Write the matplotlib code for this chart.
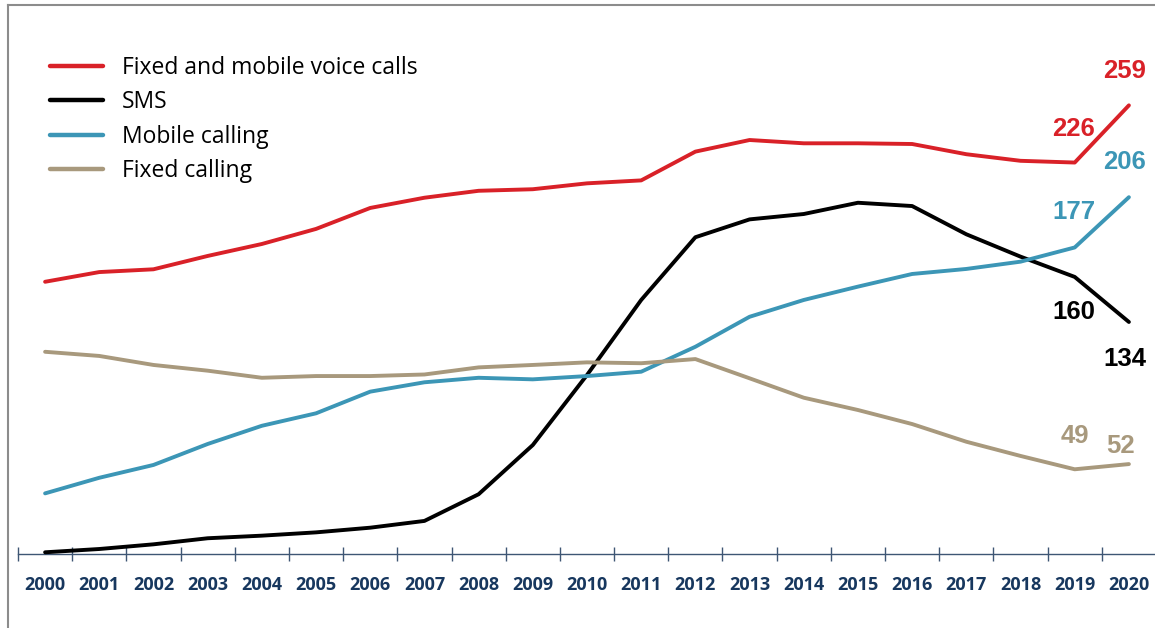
import matplotlib
matplotlib.use('Agg')
import matplotlib.pyplot as plt
from matplotlib.lines import Line2D
import numpy as np

years = list(range(2000, 2021))

voice_total = [157.2, 162.8, 164.4, 172.1, 179.0, 187.7, 199.8, 205.7, 209.7, 210.6, 214.0,
               215.7, 232.3, 239.0, 237.1, 237.1, 236.7, 230.8, 227.0, 226, 259]
sms = [1.1, 3.0, 5.7, 9.2, 10.7, 12.6, 15.3, 19.2, 34.6, 63.0, 103.4,
       146.7, 182.9, 193.2, 196.3, 202.8, 200.9, 184.6, 171.7, 160, 134]
mobile = [35.1, 44.1, 51.5, 63.6, 74.1, 81.3, 93.8, 99.2, 101.8, 100.9, 102.8,
          105.3, 119.7, 137.0, 146.7, 154.4, 161.7, 164.6, 168.8, 177, 206]
fixed = [116.8, 114.4, 109.2, 105.9, 101.8, 102.8, 102.8, 103.7, 107.8, 109.2, 110.7,
         110.2, 112.6, 101.5, 90.3, 83.2, 75.1, 64.9, 56.7, 49, 52]

labels = ['Fixed and mobile voice calls', 'SMS', 'Mobile calling', 'Fixed calling']
colors = ['#D92128', '#000000', '#3C96B6', '#A8997D']

AXIS_COL = '#3E5674'
TICK_COL = '#17375E'

fig = plt.figure(figsize=(11.55, 6.28), dpi=100)
ax = fig.add_axes([18 / 1155, 1 - 554.2 / 628, 1138 / 1155, 300 * 1.733 / 628])

series = [voice_total, sms, mobile, fixed]
for vals, lab, col in zip(series, labels, colors):
    ax.plot(years, vals, color=col, lw=2.8, label=lab, clip_on=False, zorder=3,
            solid_capstyle='round', solid_joinstyle='round')

ax.set_xlim(1999.5, 2020.5)
ax.set_ylim(0, 300)

for s in ['top', 'right', 'left']:
    ax.spines[s].set_visible(False)
ax.spines['bottom'].set_color(AXIS_COL)
ax.spines['bottom'].set_linewidth(1.0)
ax.set_yticks([])

# tick marks between years, labels at the years
ax.set_xticks(np.arange(1999.5, 2021, 1.0))
ax.set_xticklabels([])
ax.tick_params(axis='x', which='major', direction='inout', length=9.5, width=1.0, color=AXIS_COL)
ax.set_xticks(years, minor=True)
ax.set_xticklabels([str(y) for y in years], minor=True)
ax.tick_params(axis='x', which='minor', length=0, pad=16, labelsize=13, labelcolor=TICK_COL)
for t in ax.get_xticklabels(minor=True):
    t.set_fontfamily('Open Sans')
    t.set_fontweight('bold')

# end value labels
num_font = dict(family='Liberation Sans', weight='bold', fontsize=18.5, ha='center', va='center')
ends = [
    (voice_total, colors[0], [(19, 34, -1), (20, 34, -4)]),
    (mobile, colors[2], [(19, 35, -1), (20, 35, -4)]),
    (sms, colors[1], [(19, -35, -1), (20, -37, -4)]),
    (fixed, colors[3], [(19, 33, 0), (20, 18, -8)]),
]
for vals, col, spots in ends:
    for idx, dy, dx in spots:
        ax.annotate(str(int(vals[idx])), (years[idx], vals[idx]), xytext=(dx, dy),
                    textcoords='offset pixels', color=col, **num_font)

leg = ax.legend(loc='upper left', bbox_to_anchor=(50 / 1155, 1 - 56 / 628),
                bbox_transform=fig.transFigure, frameon=False, prop={'family': 'Open Sans', 'size': 16.5},
                handlelength=2.3, handletextpad=0.85, labelspacing=0.45, borderpad=0, borderaxespad=0)
for h in leg.get_lines():
    h.set_linewidth(3.2)

# slide frame on the left and top
fig.add_artist(Line2D([7.5 / 1155, 7.5 / 1155], [0, 1 - 4.5 / 628], color='#8C8C8C', lw=1.5,
                      transform=fig.transFigure))
fig.add_artist(Line2D([7.5 / 1155, 1], [1 - 4.5 / 628, 1 - 4.5 / 628], color='#8C8C8C', lw=1.5,
                      transform=fig.transFigure))

fig.savefig('out.png', dpi=100)
